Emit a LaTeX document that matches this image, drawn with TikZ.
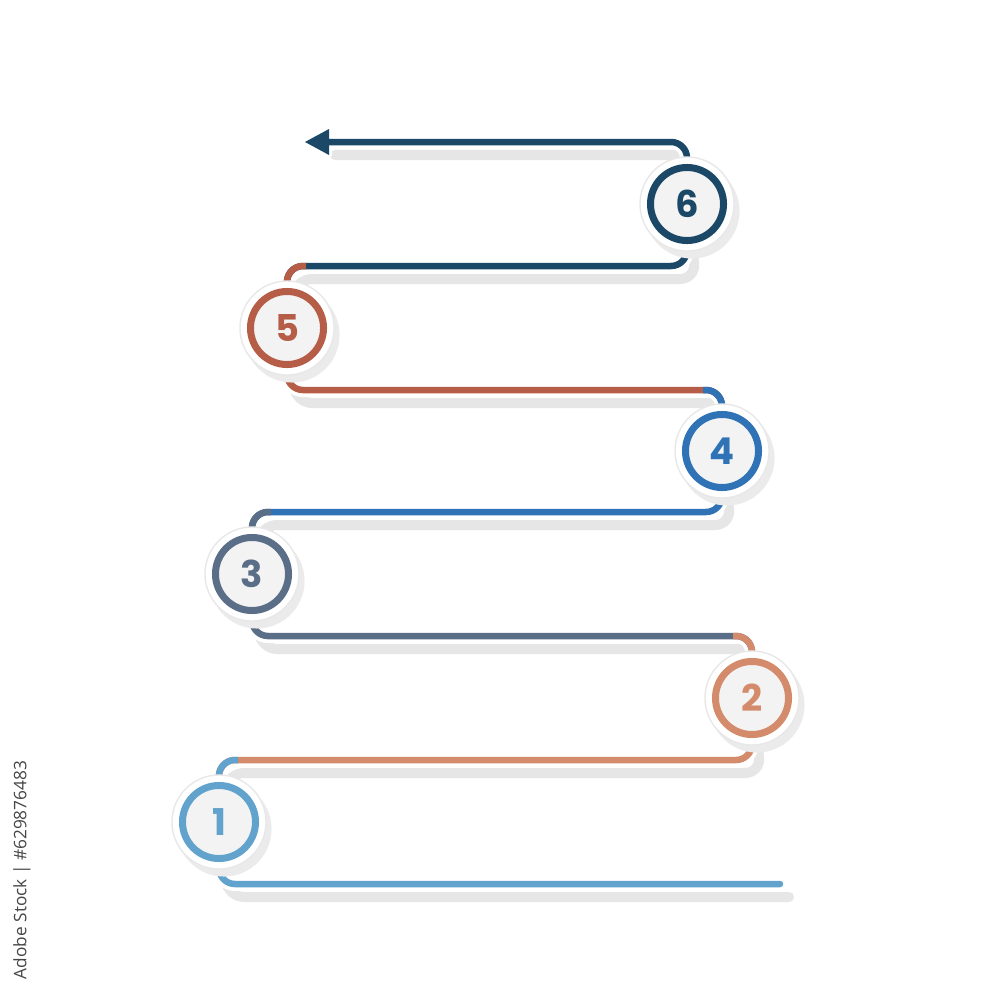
\documentclass[tikz,border=0pt]{standalone}
\usepackage{fontspec}
\setmainfont{Poppins}
\newfontfamily\wmfont{Open Sans}
\usetikzlibrary{calc}
\definecolor{colA}{HTML}{62A3CD}
\definecolor{colB}{HTML}{D38B6B}
\definecolor{colC}{HTML}{5B6E87}
\definecolor{colD}{HTML}{2F72B5}
\definecolor{colE}{HTML}{B65D48}
\definecolor{colF}{HTML}{1B4866}
\definecolor{shadowgray}{HTML}{E6E6E6}
\definecolor{diskshadow}{HTML}{EBEBEB}
\definecolor{innergray}{HTML}{F3F3F3}
\newcommand\zigpaths[1]{%
  \draw[#1] (p1) -- (219,884) -- (780,884);
  \draw[#1] (p1) -- (219,760) -- (752,760) -- (p2);
  \draw[#1] (p2) -- (752,636) -- (252,636) -- (p3);
  \draw[#1] (p3) -- (252,512) -- (722,512) -- (p4);
  \draw[#1] (p4) -- (722,390) -- (287,390) -- (p5);
  \draw[#1] (p5) -- (287,266) -- (687,266) -- (p6);
  \draw[#1] (p6) -- (687,142) -- (326,142);
}
\begin{document}
\begin{tikzpicture}[x=0.01cm,y=-0.01cm,
  line/.style={line width=0.065cm, rounded corners=0.16cm, line cap=round},
  halo/.style={line width=0.14cm, rounded corners=0.16cm, line cap=round, white},
  shd/.style={line width=0.10cm, rounded corners=0.16cm, line cap=round, shadowgray},
  over/.style={line width=0.065cm, rounded corners=0.16cm, line cap=butt},
  disk/.style={circle, fill=white, draw=gray!18, line width=0.4pt, minimum size=0.94cm, inner sep=0pt},
  ring/.style={circle, draw=#1, fill=innergray, line width=0.07cm, minimum size=0.73cm, inner sep=0pt,
    text=#1, font=\bfseries\fontsize{10.5}{12}\selectfont},
]
\useasboundingbox[fill=white] (0,0) rectangle (1000,1000);
\coordinate (p1) at (219,822);
\coordinate (p2) at (752,698);
\coordinate (p3) at (252,574);
\coordinate (p4) at (722,451);
\coordinate (p5) at (287,328);
\coordinate (p6) at (687,204);
\coordinate (tip) at (305,142);

% shadows of lines
\begin{scope}[shift={(9,13)}]
  \zigpaths{shd}
  \fill[shadowgray] (tip) -- ++(24,-13) -- ++(0,26) -- cycle;
\end{scope}
% white halos
\zigpaths{halo}
\draw[white, fill=white, line width=0.06cm, line join=round] (tip) -- ++(24,-13) -- ++(0,26) -- cycle;

% coloured lines
\draw[line, colA] (p1) -- (219,884) -- (780,884);
\draw[line, colB] (p1) -- (219,760) -- (752,760) -- (p2);
\draw[over, colA] (p1) -- (219,760) -- (238,760);
\draw[line, colC] (p2) -- (752,636) -- (252,636) -- (p3);
\draw[over, colB] (p2) -- (752,636) -- (733,636);
\draw[line, colD] (p3) -- (252,512) -- (722,512) -- (p4);
\draw[over, colC] (p3) -- (252,512) -- (271,512);
\draw[line, colE] (p4) -- (722,390) -- (287,390) -- (p5);
\draw[over, colD] (p4) -- (722,390) -- (703,390);
\draw[line, colF] (p5) -- (287,266) -- (687,266) -- (p6);
\draw[over, colE] (p5) -- (287,266) -- (306,266);
\draw[line, colF] (p6) -- (687,142) -- (326,142);
\fill[colF] (tip) -- ++(24,-13) -- ++(0,26) -- cycle;

% circles
\foreach \i/\c in {1/colA,2/colB,3/colC,4/colD,5/colE,6/colF}{
  \fill[diskshadow] ($(p\i)+(5,7)$) circle[radius=0.475cm];
  \node[disk] (d\i) at (p\i) {};
  \node[ring=\c] (c\i) at (p\i) {\i};
}

% vertical stock id
\node[rotate=90, font=\wmfont\fontsize{4.9}{6}\selectfont, text=gray!55!black] (wm) at (22,870) {Adobe Stock | \#629876483};
\end{tikzpicture}
\end{document}
